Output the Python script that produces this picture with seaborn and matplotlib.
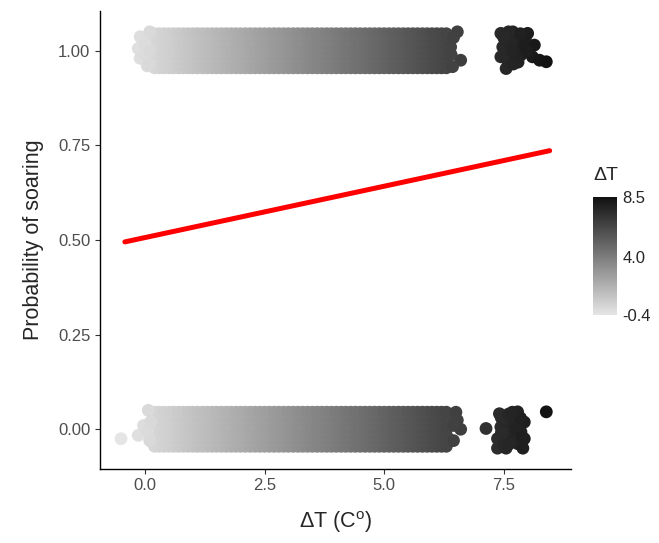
import numpy as np
import pandas as pd
import seaborn as sns
import matplotlib.pyplot as plt
from matplotlib.colors import LinearSegmentedColormap, Normalize
from matplotlib.cm import ScalarMappable

sns.set_style("white")
plt.rcParams['font.family'] = ['Liberation Sans', 'DejaVu Sans']
plt.rcParams['mathtext.fontset'] = 'custom'
plt.rcParams['mathtext.rm'] = 'Liberation Sans'

# dense jittered bands (columns of ΔT and vertical jitter rows)
band_x = [0.2, 0.3, 0.4, 0.5, 0.6, 0.7, 0.8, 0.9, 1.0, 1.1, 1.2, 1.3, 1.4, 1.5,
          1.6, 1.7, 1.8, 1.9, 2.0, 2.1, 2.2, 2.3, 2.4, 2.5, 2.6, 2.7, 2.8, 2.9,
          3.0, 3.1, 3.2, 3.3, 3.4, 3.5, 3.6, 3.7, 3.8, 3.9, 4.0, 4.1, 4.2, 4.3,
          4.4, 4.5, 4.6, 4.7, 4.8, 4.9, 5.0, 5.1, 5.2, 5.3, 5.4, 5.5, 5.6, 5.7,
          5.8, 5.9, 6.0, 6.1, 6.2, 6.3]
band_jitter = [-0.045, -0.03, -0.015, 0.0, 0.015, 0.03, 0.045]

# extra points at band edges and the warm clusters (soaring = 1)
top_x = [-0.1, -0.14, -0.1, 0.0, 0.0, 0.05, 0.1, 0.1, 0.1,
         6.53, 6.39, 6.6, 6.43, 6.45, 6.4,
         7.44, 7.69, 8.0, 7.48, 7.79, 8.14, 7.44, 7.86, 7.55, 8.1, 8.25, 8.39,
         7.62, 7.58, 7.7, 7.9, 7.55, 7.8,
         7.65, 7.5, 7.95, 7.7, 7.85, 7.6, 7.75, 7.98, 7.5, 7.68]
top_y = [1.037, 1.006, 0.98, 1.02, 0.99, 0.96, 1.05, 1.0, 0.965,
         1.05, 1.01, 0.975, 0.958, 1.035, 0.99,
         1.046, 1.05, 1.046, 1.01, 1.02, 1.015, 0.984, 0.989, 0.953, 0.984, 0.975, 0.971,
         1.0, 0.975, 1.035, 1.005, 1.03, 0.97,
         1.02, 0.99, 1.03, 0.965, 1.045, 1.05, 0.99, 1.0, 1.035, 1.0]

# extra points at band edges and the warm clusters (soaring = 0)
bot_x = [-0.5, -0.14, -0.03, 0.07, 0.1, 0.05, 0.12,
         6.53, 6.6, 6.45, 6.5, 6.45,
         7.13, 7.41, 7.79, 7.93, 7.44, 7.86, 7.37, 7.79, 7.37, 7.55, 7.65, 7.58,
         7.93, 7.9, 7.7, 7.5, 7.82, 8.39,
         7.45, 7.6, 7.7, 7.5, 7.85, 7.6, 7.45, 7.75, 7.68, 7.88]
bot_y = [-0.025, -0.016, 0.01, 0.05, -0.03, -0.005, 0.02,
         0.024, 0.0, -0.03, 0.045, 0.01,
         0.002, 0.041, 0.046, 0.019, 0.006, -0.007, -0.025, -0.038, -0.05, -0.05, 0.015, -0.016,
         -0.025, -0.05, 0.035, 0.025, 0.0, 0.046,
         0.03, 0.04, -0.03, -0.035, 0.03, -0.04, -0.01, 0.0, 0.045, -0.02]

# fitted logistic curve
fit_x = [-0.42, 8.46]
fit_y = [0.495, 0.736]

cbar_ticks = [-0.4, 4.0, 8.5]

rows = []
for level, ex_x, ex_y in [(1, top_x, top_y), (0, bot_x, bot_y)]:
    for j in band_jitter:
        for x in band_x:
            rows.append((x, level + j))
    for x, y in zip(ex_x, ex_y):
        rows.append((x, y))
df = pd.DataFrame(rows, columns=['dT', 'soar'])

cmap = LinearSegmentedColormap.from_list('grey', ['#e5e5e5', '#111111'])
norm = Normalize(vmin=-0.4, vmax=8.5)

fig = plt.figure(figsize=(6.59, 5.43), dpi=100)
ax = fig.add_axes([0.151, 0.1363, 0.715, 0.8434])

sns.scatterplot(data=df, x='dT', y='soar', hue='dT', palette=cmap, hue_norm=(-0.4, 8.5),
                s=85, linewidth=0, legend=False, ax=ax)
sns.lineplot(x=fit_x, y=fit_y, color='#ff0000', linewidth=3.6, ax=ax)

ax.set_xlim(-0.95, 8.9)
ax.set_ylim(-0.105, 1.105)
ax.set_xticks([0, 2.5, 5.0, 7.5])
ax.set_xticklabels(['0.0', '2.5', '5.0', '7.5'])
ax.set_yticks([0, 0.25, 0.5, 0.75, 1.0])
ax.set_yticklabels(['0.00', '0.25', '0.50', '0.75', '1.00'])
ax.tick_params(axis='both', length=3.5, width=0.8, color='#333333', labelcolor='#4d4d4d',
               labelsize=12, pad=3, left=True, bottom=True)
for side in ['top', 'right']:
    ax.spines[side].set_visible(False)
for side in ['left', 'bottom']:
    ax.spines[side].set_color('black')
    ax.spines[side].set_linewidth(1.0)

ax.set_xlabel('ΔT (C$^{\\mathrm{o}}$)', fontsize=15.5, labelpad=12)
ax.set_ylabel('Probability of soaring', fontsize=15.5, labelpad=10)

cax = fig.add_axes([593 / 659, (543 - 315) / 543, 24 / 659, 118 / 543])
cb = fig.colorbar(ScalarMappable(norm=norm, cmap=cmap), cax=cax, ticks=cbar_ticks)
cb.outline.set_visible(False)
cb.ax.set_yticklabels(['-0.4', '4.0', '8.5'])
cb.ax.tick_params(length=0, labelsize=12, pad=4)
fig.text(593 / 659, (543 - 176) / 543, 'ΔT', fontsize=14, va='center', ha='left')

fig.savefig('out.png', dpi=100)
